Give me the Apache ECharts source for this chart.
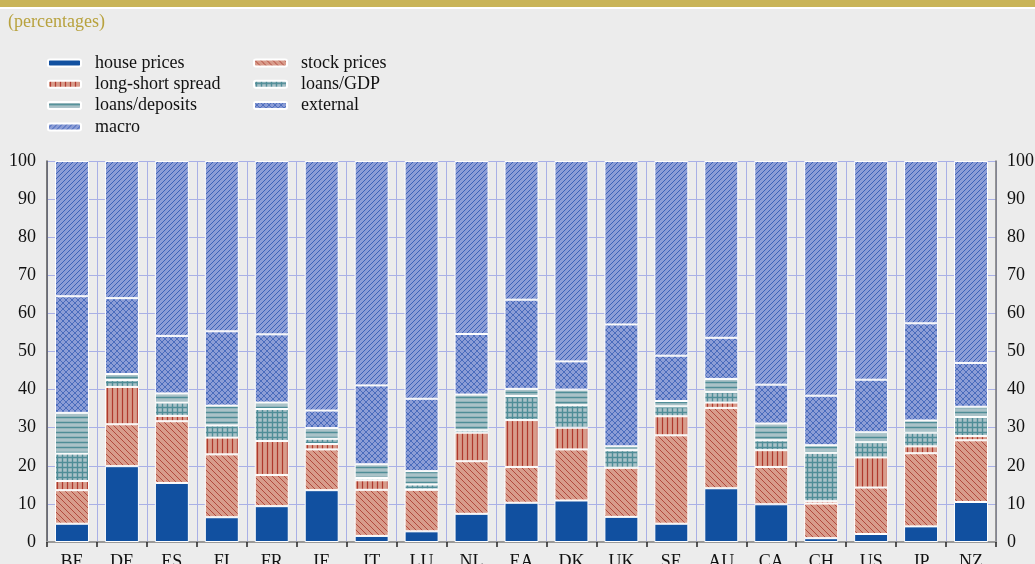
<!DOCTYPE html>
<html>
<head>
<meta charset="utf-8">
<script src="https://cdn.jsdelivr.net/npm/echarts@6/dist/echarts.min.js"></script>
<style>
html,body{margin:0;padding:0;background:#ececec;}
#chart{width:1035px;height:564px;}
</style>
</head>
<body>
<div id="chart"></div>
<script>
const categories = ['BE','DE','ES','FI','FR','IE','IT','LU','NL','EA','DK','UK','SE','AU','CA','CH','US','JP','NZ'];
const housePrices = [4.8,19.9,15.5,6.5,9.4,13.6,1.6,2.8,7.4,10.3,10.9,6.6,4.8,14.1,9.9,1.0,2.1,4.1,10.5];
const stockPrices = [8.8,11.0,16.2,16.5,8.2,10.7,12.1,10.9,13.8,9.4,13.4,12.9,23.2,21.1,9.8,9.1,12.2,19.2,16.2];
const longShortSpread = [2.4,9.8,1.4,4.4,8.9,1.4,2.5,0.1,7.5,12.3,5.7,0,5.0,1.4,4.4,0.6,7.9,1.8,1.1];
const loansGDP = [7.2,1.8,3.5,3.2,8.4,1.4,0.6,1.3,0.6,6.3,5.9,4.6,2.6,2.8,2.6,12.7,4.0,3.6,5.0];
const loansDeposits = [10.7,1.6,2.4,5.2,1.7,2.8,3.6,3.5,9.4,1.9,4.1,1.0,1.4,3.4,4.4,2.0,2.6,3.2,2.7];
const external = [30.6,19.9,15.1,19.5,17.9,4.6,20.7,19.0,15.9,23.4,7.4,32.0,11.9,10.8,10.2,13.0,13.8,25.5,11.5];
const macro = [35.5,36.0,45.9,44.7,45.5,65.5,58.9,62.4,45.4,36.4,52.6,42.9,51.1,46.4,58.7,61.6,57.4,42.6,53.0];
const yTicks = [0,10,20,30,40,50,60,70,80,90,100];

function pattern(bg, fg, type, size) {
  const s = size;
  const c = document.createElement('canvas');
  c.width = s; c.height = s;
  const g = c.getContext('2d');
  g.fillStyle = bg; g.fillRect(0,0,s,s);
  g.strokeStyle = fg;
  g.lineWidth = 1;
  g.beginPath();
  if (type === 'fslash') {
    g.moveTo(-1, s+1); g.lineTo(s+1, -1);
    g.moveTo(-1, 1); g.lineTo(1, -1);
    g.moveTo(s-1, s+1); g.lineTo(s+1, s-1);
  } else if (type === 'bslash') {
    g.moveTo(-1, -1); g.lineTo(s+1, s+1);
    g.moveTo(s-1, -1); g.lineTo(s+1, 1);
    g.moveTo(-1, s-1); g.lineTo(1, s+1);
  } else if (type === 'cross') {
    g.moveTo(-1, s+1); g.lineTo(s+1, -1);
    g.moveTo(-1, -1); g.lineTo(s+1, s+1);
  } else if (type === 'vert') {
    g.lineWidth = 1.2;
    g.moveTo(s/2, 0); g.lineTo(s/2, s);
  } else if (type === 'horiz') {
    g.lineWidth = 1.5;
    g.moveTo(0, s/2); g.lineTo(s, s/2);
  } else if (type === 'grid') {
    g.lineWidth = 1.4;
    g.moveTo(0, s/2); g.lineTo(s, s/2);
    g.moveTo(s/2, 0); g.lineTo(s/2, s);
  }
  g.stroke();
  return {image: c, repeat: 'repeat'};
}

const colHouse = '#1150a0';
const colStock = pattern('#d89c8b', '#b24a3e', 'bslash', 6);
const colSpread = pattern('#d89c8b', '#b0382c', 'vert', 5);
const colLoansGDP = pattern('#aac2c8', '#4f8d97', 'grid', 5);
const colLoansDep = pattern('#aac2c8', '#4f8d97', 'horiz', 5);
const colExternal = pattern('#8c9dd6', '#4a6cbc', 'cross', 6);
const colMacro = pattern('#8c9dd6', '#3d62b8', 'fslash', 5);

const serif = '"Liberation Serif", "DejaVu Serif", serif';

function mk(name, data, color) {
  return {
    name: name, type: 'bar', stack: 'total', data: data, barWidth: 34,
    itemStyle: {color: color, borderColor: '#ffffff', borderWidth: 1},
    emphasis: {disabled: true}
  };
}

const chart = echarts.init(document.getElementById('chart'), null, {renderer: 'canvas'});
const legendText = {fontFamily: serif, fontSize: 18, color: '#111', padding: [0,0,0,9], lineHeight: 18};
chart.setOption({
  backgroundColor: '#ececec',
  animation: false,
  graphic: [
    {type: 'rect', left: 0, top: 0, shape: {width: 1035, height: 7}, style: {fill: '#c9b458'}},
    {type: 'rect', left: 0, top: 7, shape: {width: 1035, height: 2}, style: {fill: '#ffffff'}},
    {type: 'text', left: 8, top: 13, style: {text: '(percentages)', font: '18px ' + serif, fill: '#b8a23e'}}
  ],
  legend: [
    {
      orient: 'vertical', left: 47, top: 54, padding: 0, itemWidth: 33, itemHeight: 7, itemGap: 3.3,
      textStyle: legendText, selectedMode: false,
      data: ['house prices','long-short spread','loans/deposits','macro']
    },
    {
      orient: 'vertical', left: 253, top: 54, padding: 0, itemWidth: 33, itemHeight: 7, itemGap: 3.3,
      textStyle: legendText, selectedMode: false,
      data: ['stock prices','loans/GDP','external']
    }
  ],
  grid: {left: 47, right: 39, top: 161, bottom: 22, containLabel: false, outerBoundsMode: 'none'},
  xAxis: {
    type: 'category', data: categories, boundaryGap: true,
    axisLine: {show: true, lineStyle: {color: '#9a9a9a', width: 2}},
    axisTick: {show: true, alignWithLabel: false, length: 5, lineStyle: {color: '#222', width: 1.5}},
    axisLabel: {fontFamily: serif, fontSize: 18, color: '#111', margin: 11},
    splitLine: {show: true, lineStyle: {color: '#a9b0e6', width: 1}}
  },
  yAxis: [
    {
      type: 'value', min: 0, max: 100, interval: 10, position: 'left',
      axisLine: {show: true, lineStyle: {color: '#555', width: 1.5}},
      axisTick: {show: false},
      axisLabel: {fontFamily: serif, fontSize: 18, color: '#111', margin: 11},
      splitLine: {show: true, lineStyle: {color: '#a9b0e6', width: 1}}
    },
    {
      type: 'value', min: 0, max: 100, interval: 10, position: 'right',
      axisLine: {show: true, lineStyle: {color: '#777', width: 1.5}},
      axisTick: {show: false},
      axisLabel: {fontFamily: serif, fontSize: 18, color: '#111', margin: 11},
      splitLine: {show: false}
    }
  ],
  series: [
    mk('house prices', housePrices, colHouse),
    mk('stock prices', stockPrices, colStock),
    mk('long-short spread', longShortSpread, colSpread),
    mk('loans/GDP', loansGDP, colLoansGDP),
    mk('loans/deposits', loansDeposits, colLoansDep),
    mk('external', external, colExternal),
    mk('macro', macro, colMacro)
  ]
});
</script>
</body>
</html>
